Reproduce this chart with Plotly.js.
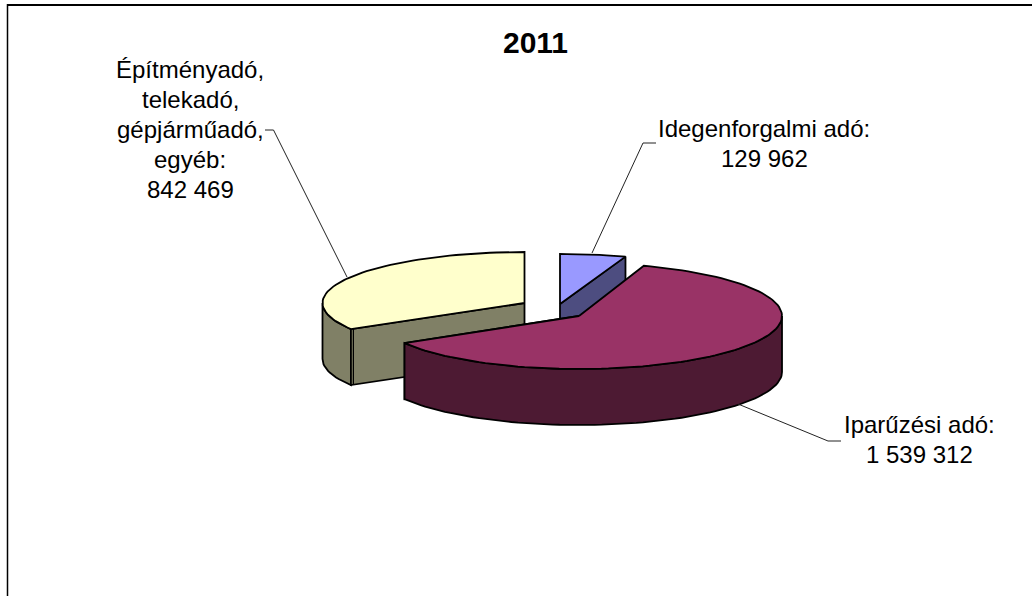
<!DOCTYPE html>
<html><head><meta charset="utf-8">
<script src="https://cdn.plot.ly/plotly-3.0.1.min.js"></script>
<style>html,body{margin:0;padding:0;background:#fff}#c{width:1032px;height:596px}</style>
</head><body><div id="c"></div>
<script>
const categories = ['Idegenforgalmi adó', 'Iparűzési adó', 'Építményadó, telekadó, gépjárműadó, egyéb'];
const values = [129962, 1539312, 842469];
const topColors = ['#9999FF', '#993366', '#FFFFCC'];
const wallColors = ['#4D4D80', '#4D1A33', '#808066'];
const centersX = [560, 579, 524.5];
const centersY = [304, 316, 303];
const radiiX = [205, 203, 202];
const radiiY = [50, 53, 51];
const depth = 56;
const labelLines = [['Idegenforgalmi adó:', '129 962'], ['Iparűzési adó:', '1 539 312'], ['Építményadó,', 'telekadó,', 'gépjárműadó,', 'egyéb:', '842 469']];
const labelX = [764, 919.5, 190];
const labelY = [143, 439.5, 129];
const lineGap = 30;
const leaderX = [[592, 643, 656], [738, 828, 841], [347, 273.5, 265]];
const leaderY = [[253, 143, 143], [404, 441, 441], [277, 130, 130]];

const total = values.reduce((a, b) => a + b, 0);
let acc = 0;
const slices = values.map(v => { const s = acc / total * 360; acc += v; return [s, acc / total * 360]; });

function pt(i, deg, dz) {
  const r = deg * Math.PI / 180;
  return [centersX[i] + radiiX[i] * Math.sin(r), centersY[i] - radiiY[i] * Math.cos(r) + (dz || 0)];
}
function arc(i, a0, a1, dz) {
  const out = [], n = Math.max(2, Math.ceil(Math.abs(a1 - a0) / 2));
  for (let k = 0; k <= n; k++) out.push(pt(i, a0 + (a1 - a0) * k / n, dz));
  return out;
}
function poly(points, fill) {
  const closed = points.concat([points[0]]);
  return { type: 'scatter', mode: 'lines', x: closed.map(p => p[0]), y: closed.map(p => p[1]),
    fill: 'toself', fillcolor: fill, line: { color: '#000', width: 1.8 }, hoverinfo: 'skip', showlegend: false };
}
function cutFace(i, deg) {
  const e = pt(i, deg), c = [centersX[i], centersY[i]];
  return [c, e, [e[0], e[1] + depth], [c[0], c[1] + depth]];
}
function outerWall(i, a0, a1) {
  return arc(i, a0, a1).concat(arc(i, a1, a0, depth));
}
function topFace(i) {
  return [[centersX[i], centersY[i]]].concat(arc(i, slices[i][0], slices[i][1]));
}

const traces = [];
traces.push(poly(cutFace(0, slices[0][1]), wallColors[0]));
traces.push(poly(topFace(0), topColors[0]));
traces.push(poly(outerWall(2, slices[2][0], 270), wallColors[2]));
traces.push(poly(cutFace(2, slices[2][0]), wallColors[2]));
const seam = pt(2, slices[2][0]);
traces.push({ type: 'scatter', mode: 'lines', x: [seam[0] + 2.5, seam[0] + 2.5], y: [seam[1], seam[1] + depth],
  line: { color: '#000', width: 1.2 }, hoverinfo: 'skip', showlegend: false });
traces.push(poly(topFace(2), topColors[2]));
traces.push(poly(cutFace(1, slices[1][1]), wallColors[1]));
traces.push(poly(outerWall(1, 90, slices[1][1]), wallColors[1]));
traces.push(poly(topFace(1), topColors[1]));
leaderX.forEach((xs, i) => traces.push({ type: 'scatter', mode: 'lines', x: xs, y: leaderY[i],
  line: { color: '#222', width: 1 }, hoverinfo: 'skip', showlegend: false }));

const annotations = labelLines.flatMap((lines, i) => lines.map((t, k) => ({
  x: labelX[i], y: labelY[i] + (k - (lines.length - 1) / 2) * lineGap, text: t, showarrow: false,
  xanchor: 'center', yanchor: 'middle', align: 'center', font: { family: 'Liberation Sans', size: 24, color: '#000' } })));

Plotly.newPlot('c', traces, {
  width: 1032, height: 596, margin: { l: 0, r: 0, t: 0, b: 0 }, paper_bgcolor: '#fff', plot_bgcolor: '#fff',
  showlegend: false,
  title: { text: '<b>2011</b>', x: 535.5 / 1032, xanchor: 'center', y: 1 - 42 / 596, yanchor: 'middle',
    font: { family: 'Liberation Sans', size: 30, color: '#000' } },
  xaxis: { range: [0, 1032], visible: false, fixedrange: true },
  yaxis: { range: [596, 0], visible: false, fixedrange: true },
  annotations,
  shapes: [
    { type: 'line', xref: 'x', yref: 'y', x0: 7, x1: 1032, y0: 5, y1: 5, line: { color: '#000', width: 2 } },
    { type: 'line', xref: 'x', yref: 'y', x0: 7.5, x1: 7.5, y0: 4, y1: 596, line: { color: '#000', width: 1.5 } }
  ]
}, { displayModeBar: false, staticPlot: true });
</script></body></html>
